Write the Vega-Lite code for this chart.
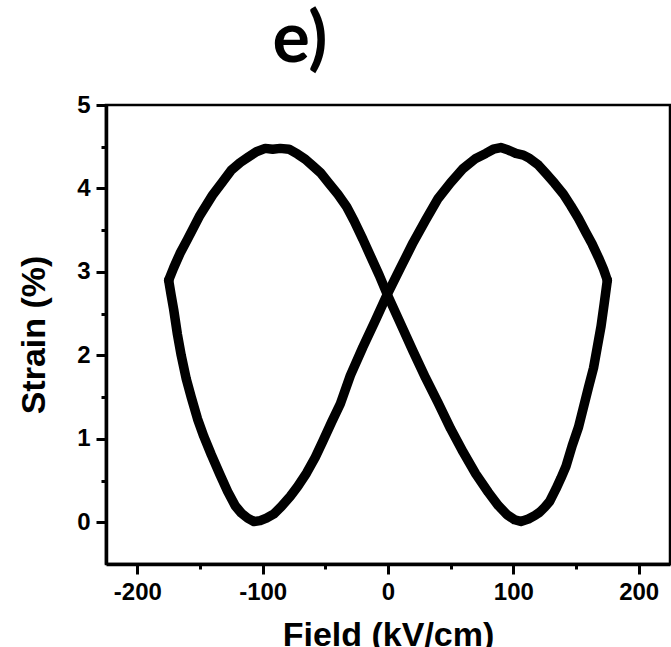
{
  "$schema": "https://vega.github.io/schema/vega-lite/v6.json",
  "width": 564,
  "height": 459,
  "autosize": {"type": "none"},
  "padding": {"left": 106, "top": 105, "right": 1, "bottom": 83},
  "background": "white",
  "title": {
    "text": "e)",
    "font": "Lato",
    "fontSize": 70,
    "fontWeight": "bold",
    "color": "black",
    "frame": "group",
    "anchor": "middle",
    "dx": -88,
    "offset": 16
  },
  "config": {
    "view": {"stroke": "black", "strokeWidth": 2.5},
    "axis": {
      "domainColor": "black",
      "domainWidth": 3.5,
      "tickColor": "black",
      "tickWidth": 3,
      "labelFont": "Liberation Sans",
      "labelFontSize": 24,
      "labelFontWeight": "bold",
      "labelColor": "black",
      "titleFont": "Liberation Sans",
      "titleFontSize": 34,
      "titleFontWeight": "bold",
      "titleColor": "black",
      "grid": false
    }
  },
  "data": {
    "values": [
      {"b": "A", "i": 1, "E": -175, "S": 2.90},
      {"b": "A", "i": 2, "E": -171, "S": 3.05},
      {"b": "A", "i": 3, "E": -166, "S": 3.22},
      {"b": "A", "i": 4, "E": -160, "S": 3.39},
      {"b": "A", "i": 5, "E": -150, "S": 3.68},
      {"b": "A", "i": 6, "E": -140, "S": 3.92},
      {"b": "A", "i": 7, "E": -132, "S": 4.08},
      {"b": "A", "i": 8, "E": -125, "S": 4.22},
      {"b": "A", "i": 9, "E": -118, "S": 4.31},
      {"b": "A", "i": 10, "E": -112, "S": 4.37},
      {"b": "A", "i": 11, "E": -105, "S": 4.44},
      {"b": "A", "i": 12, "E": -98, "S": 4.48},
      {"b": "A", "i": 13, "E": -92, "S": 4.47},
      {"b": "A", "i": 14, "E": -86, "S": 4.48},
      {"b": "A", "i": 15, "E": -79, "S": 4.47},
      {"b": "A", "i": 16, "E": -72, "S": 4.41},
      {"b": "A", "i": 17, "E": -66, "S": 4.35},
      {"b": "A", "i": 18, "E": -60, "S": 4.27},
      {"b": "A", "i": 19, "E": -54, "S": 4.19},
      {"b": "A", "i": 20, "E": -47, "S": 4.06},
      {"b": "A", "i": 21, "E": -40, "S": 3.93},
      {"b": "A", "i": 22, "E": -33, "S": 3.78},
      {"b": "A", "i": 23, "E": -27, "S": 3.61},
      {"b": "A", "i": 24, "E": -20, "S": 3.39},
      {"b": "A", "i": 25, "E": -14, "S": 3.19},
      {"b": "A", "i": 26, "E": -7, "S": 2.96},
      {"b": "A", "i": 27, "E": 0, "S": 2.71},
      {"b": "A", "i": 28, "E": 10, "S": 2.38},
      {"b": "A", "i": 29, "E": 20, "S": 2.05},
      {"b": "A", "i": 30, "E": 30, "S": 1.73},
      {"b": "A", "i": 31, "E": 40, "S": 1.43},
      {"b": "A", "i": 32, "E": 50, "S": 1.12},
      {"b": "A", "i": 33, "E": 60, "S": 0.84},
      {"b": "A", "i": 34, "E": 70, "S": 0.58},
      {"b": "A", "i": 35, "E": 80, "S": 0.36},
      {"b": "A", "i": 36, "E": 88, "S": 0.20},
      {"b": "A", "i": 37, "E": 95, "S": 0.09},
      {"b": "A", "i": 38, "E": 101, "S": 0.03},
      {"b": "A", "i": 39, "E": 106, "S": 0.01},
      {"b": "A", "i": 40, "E": 112, "S": 0.04},
      {"b": "A", "i": 41, "E": 117, "S": 0.08},
      {"b": "A", "i": 42, "E": 121, "S": 0.12},
      {"b": "A", "i": 43, "E": 125, "S": 0.18},
      {"b": "A", "i": 44, "E": 129, "S": 0.25},
      {"b": "A", "i": 45, "E": 134, "S": 0.40},
      {"b": "A", "i": 46, "E": 138, "S": 0.53},
      {"b": "A", "i": 47, "E": 142, "S": 0.67},
      {"b": "A", "i": 48, "E": 147, "S": 0.92},
      {"b": "A", "i": 49, "E": 152, "S": 1.14},
      {"b": "A", "i": 50, "E": 156, "S": 1.38},
      {"b": "A", "i": 51, "E": 160, "S": 1.62},
      {"b": "A", "i": 52, "E": 164, "S": 1.85},
      {"b": "A", "i": 53, "E": 167, "S": 2.10},
      {"b": "A", "i": 54, "E": 170, "S": 2.35},
      {"b": "A", "i": 55, "E": 172.5, "S": 2.62},
      {"b": "A", "i": 56, "E": 175, "S": 2.90},
      {"b": "B", "i": 1, "E": 175, "S": 2.90},
      {"b": "B", "i": 2, "E": 172, "S": 3.03},
      {"b": "B", "i": 3, "E": 168, "S": 3.17},
      {"b": "B", "i": 4, "E": 163, "S": 3.33},
      {"b": "B", "i": 5, "E": 158, "S": 3.47},
      {"b": "B", "i": 6, "E": 152, "S": 3.64},
      {"b": "B", "i": 7, "E": 146, "S": 3.79},
      {"b": "B", "i": 8, "E": 140, "S": 3.93},
      {"b": "B", "i": 9, "E": 133, "S": 4.06},
      {"b": "B", "i": 10, "E": 126, "S": 4.18},
      {"b": "B", "i": 11, "E": 120, "S": 4.28},
      {"b": "B", "i": 12, "E": 113, "S": 4.36},
      {"b": "B", "i": 13, "E": 108, "S": 4.40},
      {"b": "B", "i": 14, "E": 102, "S": 4.42},
      {"b": "B", "i": 15, "E": 96, "S": 4.46},
      {"b": "B", "i": 16, "E": 90, "S": 4.49},
      {"b": "B", "i": 17, "E": 84, "S": 4.47},
      {"b": "B", "i": 18, "E": 78, "S": 4.42},
      {"b": "B", "i": 19, "E": 70, "S": 4.36},
      {"b": "B", "i": 20, "E": 60, "S": 4.24},
      {"b": "B", "i": 21, "E": 50, "S": 4.07},
      {"b": "B", "i": 22, "E": 40, "S": 3.88},
      {"b": "B", "i": 23, "E": 30, "S": 3.62},
      {"b": "B", "i": 24, "E": 20, "S": 3.35},
      {"b": "B", "i": 25, "E": 10, "S": 3.05},
      {"b": "B", "i": 26, "E": 0, "S": 2.75},
      {"b": "B", "i": 27, "E": -10, "S": 2.42},
      {"b": "B", "i": 28, "E": -20, "S": 2.10},
      {"b": "B", "i": 29, "E": -30, "S": 1.76},
      {"b": "B", "i": 30, "E": -38, "S": 1.42},
      {"b": "B", "i": 31, "E": -45, "S": 1.20},
      {"b": "B", "i": 32, "E": -52, "S": 0.97},
      {"b": "B", "i": 33, "E": -58, "S": 0.78},
      {"b": "B", "i": 34, "E": -65, "S": 0.59},
      {"b": "B", "i": 35, "E": -72, "S": 0.43},
      {"b": "B", "i": 36, "E": -78, "S": 0.31},
      {"b": "B", "i": 37, "E": -85, "S": 0.19},
      {"b": "B", "i": 38, "E": -91, "S": 0.10},
      {"b": "B", "i": 39, "E": -97, "S": 0.05},
      {"b": "B", "i": 40, "E": -102, "S": 0.02},
      {"b": "B", "i": 41, "E": -107, "S": 0.01},
      {"b": "B", "i": 42, "E": -112, "S": 0.05},
      {"b": "B", "i": 43, "E": -117, "S": 0.11},
      {"b": "B", "i": 44, "E": -122, "S": 0.20},
      {"b": "B", "i": 45, "E": -128, "S": 0.37},
      {"b": "B", "i": 46, "E": -134, "S": 0.57},
      {"b": "B", "i": 47, "E": -141, "S": 0.81},
      {"b": "B", "i": 48, "E": -147, "S": 1.03},
      {"b": "B", "i": 49, "E": -152, "S": 1.24},
      {"b": "B", "i": 50, "E": -157, "S": 1.50},
      {"b": "B", "i": 51, "E": -161, "S": 1.72},
      {"b": "B", "i": 52, "E": -165, "S": 2.00},
      {"b": "B", "i": 53, "E": -168, "S": 2.25},
      {"b": "B", "i": 54, "E": -171, "S": 2.55},
      {"b": "B", "i": 55, "E": -173, "S": 2.72},
      {"b": "B", "i": 56, "E": -175, "S": 2.90}
    ]
  },
  "mark": {"type": "line", "color": "black", "strokeWidth": 9.5, "strokeJoin": "round", "strokeCap": "round", "clip": false},
  "encoding": {
    "x": {
      "field": "E",
      "type": "quantitative",
      "scale": {"domain": [-225, 225], "nice": false, "zero": false},
      "axis": {
        "title": "Field (kV/cm)",
        "values": [-200, -150, -100, -50, 0, 50, 100, 150, 200],
        "labelExpr": "datum.value % 100 === 0 ? '' + datum.value : ''",
        "tickSize": {"condition": {"test": "datum.value % 100 === 0", "value": 10}, "value": 5},
        "labelPadding": 6,
        "titlePadding": 14,
        "labelFlush": false,
        "labelOverlap": false
      }
    },
    "y": {
      "field": "S",
      "type": "quantitative",
      "scale": {"domain": [-0.5, 5], "nice": false, "zero": false},
      "axis": {
        "title": "Strain (%)",
        "values": [0, 0.5, 1, 1.5, 2, 2.5, 3, 3.5, 4, 4.5, 5],
        "labelExpr": "datum.value % 1 === 0 ? '' + datum.value : ''",
        "tickSize": {"condition": {"test": "datum.value % 1 === 0", "value": 10}, "value": 5},
        "labelPadding": 6,
        "titlePadding": 25,
        "labelFlush": false,
        "labelOverlap": false
      }
    },
    "detail": {"field": "b"},
    "order": {"field": "i", "type": "quantitative"}
  }
}
